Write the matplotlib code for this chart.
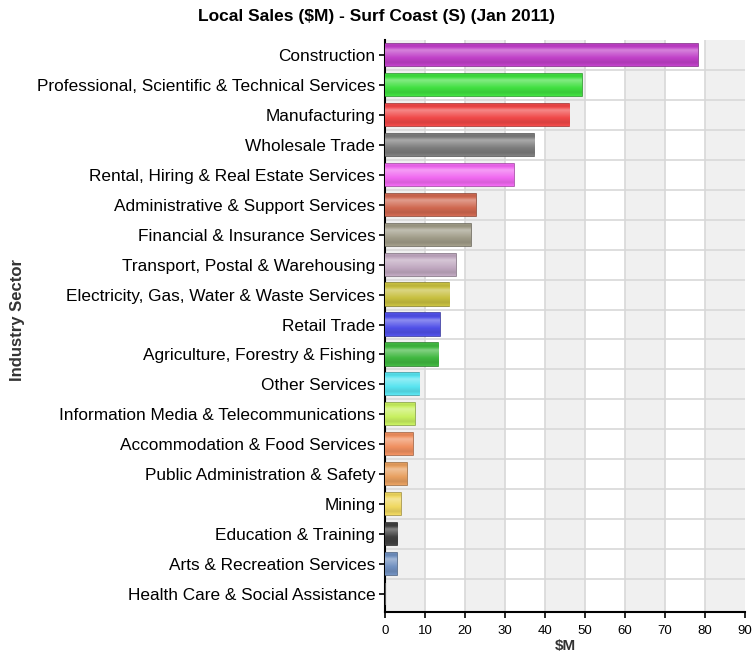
import matplotlib
matplotlib.use("Agg")
import matplotlib.pyplot as plt
import matplotlib.colors as mcolors
import numpy as np

plt.rcParams['font.family'] = ['Liberation Sans', 'DejaVu Sans']

sectors = [
    "Construction",
    "Professional, Scientific & Technical Services",
    "Manufacturing",
    "Wholesale Trade",
    "Rental, Hiring & Real Estate Services",
    "Administrative & Support Services",
    "Financial & Insurance Services",
    "Transport, Postal & Warehousing",
    "Electricity, Gas, Water & Waste Services",
    "Retail Trade",
    "Agriculture, Forestry & Fishing",
    "Other Services",
    "Information Media & Telecommunications",
    "Accommodation & Food Services",
    "Public Administration & Safety",
    "Mining",
    "Education & Training",
    "Arts & Recreation Services",
    "Health Care & Social Assistance",
]
sales = [78.2, 49.2, 46.1, 37.3, 32.2, 22.7, 21.5, 17.7, 16.1, 13.7,
         13.3, 8.6, 7.4, 6.9, 5.4, 3.9, 3.1, 3.0, 0.0]
colors = ["#c040c8", "#40e040", "#f04848", "#7c7c7c", "#f068f0", "#d06850",
          "#a09c88", "#c0a8c0", "#c8c040", "#5050e8", "#40b840", "#58e4f0",
          "#c8f060", "#f09060", "#e8a060", "#f0d860", "#404040", "#7090c0",
          "#888888"]


def glossy_bar(ax, bar, color):
    base = np.array(mcolors.to_rgb(color))
    dark = base * 0.75
    light = base + (1 - base) * 0.5
    t = np.linspace(0, 1, 64)
    # vertical profile: lighter stripe near top, darker edges
    prof = np.interp(t, [0, 0.12, 0.3, 0.55, 0.85, 1], [0.5, 0.35, 0.85, 0.6, 0.3, 0.55])
    img = np.zeros((64, 1, 3))
    for i, p in enumerate(prof):
        if p < 0.5:
            img[i, 0] = dark + (base - dark) * (p / 0.5)
        else:
            img[i, 0] = base + (light - base) * ((p - 0.5) / 0.5)
    x0, y0 = bar.get_x(), bar.get_y()
    w, h = bar.get_width(), bar.get_height()
    if w <= 0:
        return
    im = ax.imshow(img, extent=(x0, x0 + w, y0 + h, y0), aspect='auto',
                   interpolation='bilinear', zorder=3)
    im.set_clip_path(bar)


fig = plt.figure(figsize=(7.53, 6.59), dpi=100)
ax = fig.add_axes([385 / 753, 1 - 612 / 659, 360 / 753, 572 / 659])

y = np.arange(len(sectors))
bars = ax.barh(y, sales, height=0.74, color=colors, zorder=3, linewidth=1.2)
for b, c in zip(bars, colors):
    b.set_edgecolor(np.array(mcolors.to_rgb(c)) * 0.7)
    glossy_bar(ax, b, c)
    b.set_facecolor('none')

ax.set_xlim(0, 90)
ax.set_ylim(len(sectors) - 0.4, -0.5)

# alternating background bands
for i in range(0, 90, 20):
    ax.axvspan(i, i + 10, color="#f0f0f0", zorder=0, lw=0)
for xv in range(10, 90, 10):
    ax.axvline(xv, color="#d8d8d8", lw=1.2, zorder=1)
for yv in np.arange(0.5, len(sectors) - 0.5, 1):
    ax.axhline(yv, color="#d8d8d8", lw=1.2, zorder=1)

ax.set_yticks(y)
ax.set_yticklabels(sectors, fontsize=12.4)
ax.set_xticks(range(0, 91, 10))
ax.tick_params(axis='x', labelsize=9.5, length=4, width=1.2, pad=5)
ax.tick_params(axis='y', length=4, width=1.2, pad=3)

for s in ['top', 'right']:
    ax.spines[s].set_visible(False)
for s in ['left', 'bottom']:
    ax.spines[s].set_linewidth(1.5)

ax.set_xlabel("$M", fontsize=11, fontweight='bold', labelpad=2, color='#333333')
fig.text(18 / 753, 1 - 320 / 659, "Industry Sector", rotation=90, fontsize=12,
         fontweight='bold', ha='center', va='center', color='#333333')
fig.text(376 / 753, 1 - 17 / 659, "Local Sales ($M) - Surf Coast (S) (Jan 2011)",
         fontsize=12.5, fontweight='bold', ha='center', va='center')

fig.savefig("out.png", dpi=100)
